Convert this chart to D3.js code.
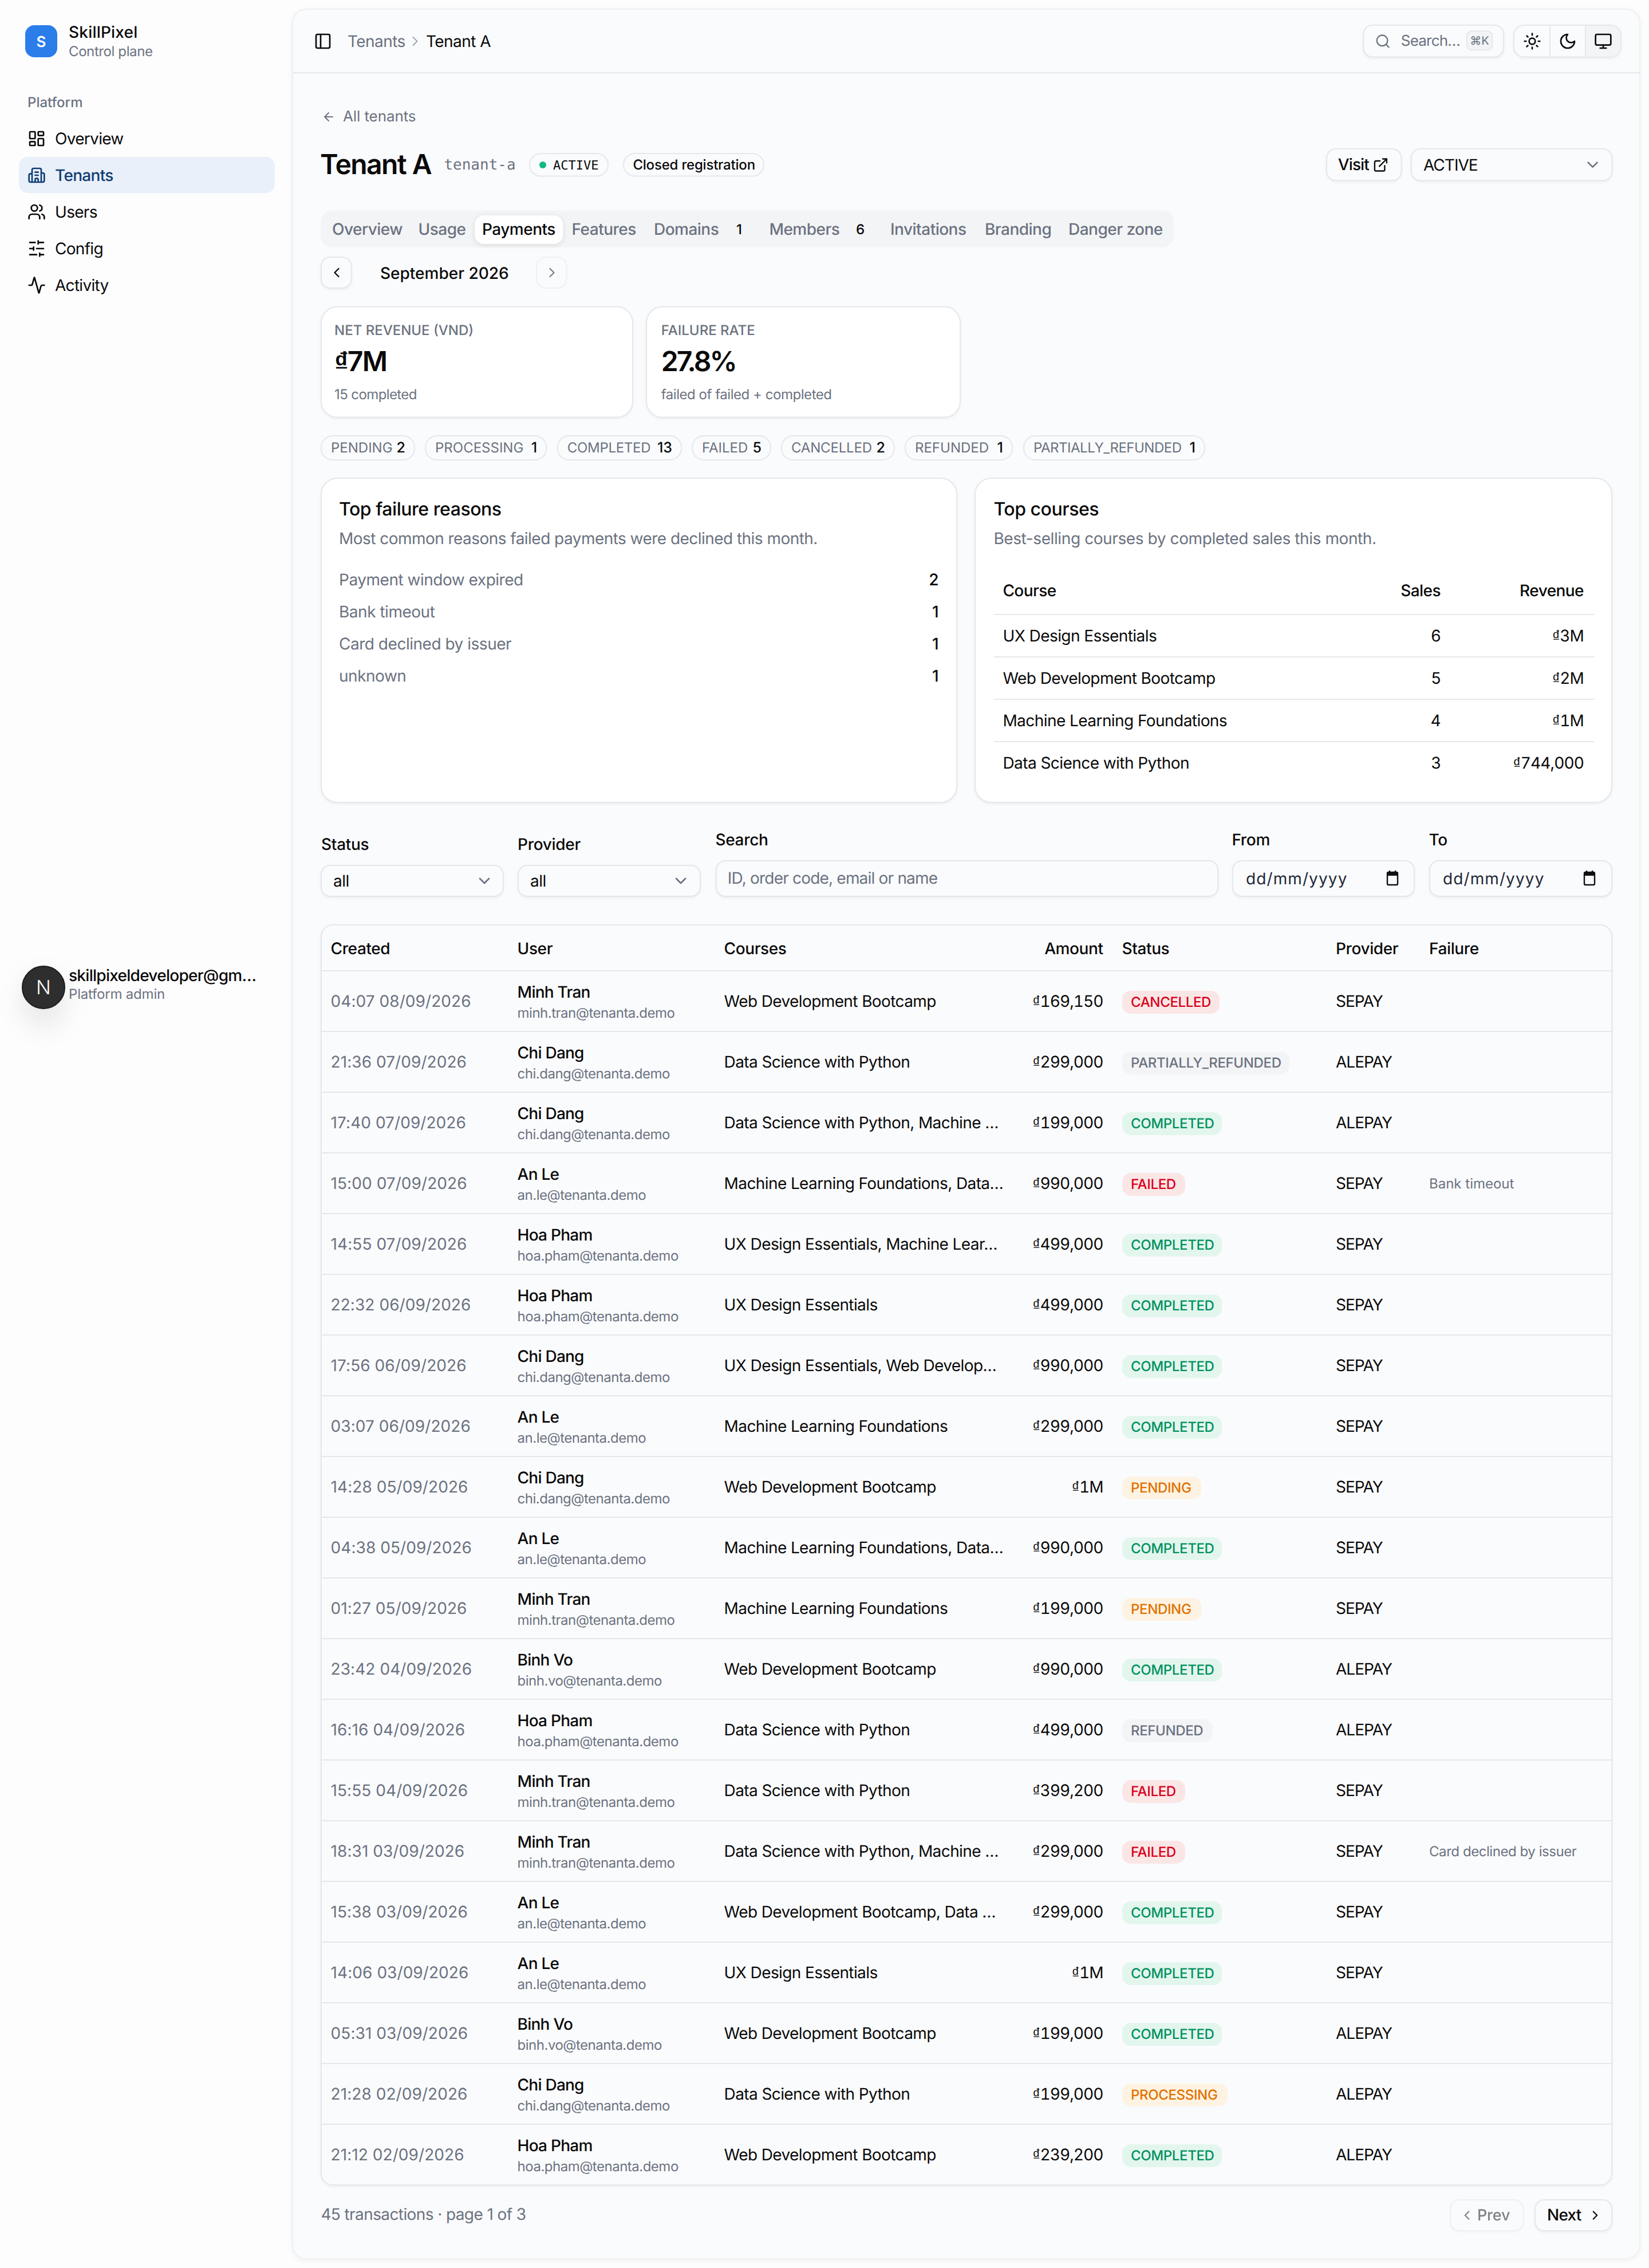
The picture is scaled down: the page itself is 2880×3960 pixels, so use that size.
<!DOCTYPE html>
<html><head><meta charset="utf-8">
<script src="https://cdn.jsdelivr.net/npm/d3@7/dist/d3.min.js"></script>
<style>
html,body{margin:0;padding:0;background:#fdfdfe}
svg{display:block;font-family:Inter,sans-serif;text-rendering:geometricPrecision}
</style></head><body>
<svg id="c" width="2880" height="3960" viewBox="0 0 2880 3960"></svg>
<script>
// ---------- data ----------
const navItems = ["Overview","Tenants","Users","Config","Activity"];
const navIcons = ["dash","building","users","sliders","activity"];
const tabLabels = ["Overview","Usage","Payments","Features","Domains","Members","Invitations","Branding","Danger zone"];
const tabBadges = ["","","","","1","6","","",""];
const statusChipLabels = ["PENDING","PROCESSING","COMPLETED","FAILED","CANCELLED","REFUNDED","PARTIALLY_REFUNDED"];
const statusChipCounts = [2,1,13,5,2,1,1];
const failureReasons = ["Payment window expired","Bank timeout","Card declined by issuer","unknown"];
const failureCounts = [2,1,1,1];
const topCourses = ["UX Design Essentials","Web Development Bootcamp","Machine Learning Foundations","Data Science with Python"];
const topSales = [6,5,4,3];
const topRevenue = [3000000,2000000,1000000,744000];
const columnHeaders = ["Created","User","Courses","Amount","Status","Provider","Failure"];
const created = ["04:07 08/09/2026","21:36 07/09/2026","17:40 07/09/2026","15:00 07/09/2026","14:55 07/09/2026","22:32 06/09/2026","17:56 06/09/2026","03:07 06/09/2026","14:28 05/09/2026","04:38 05/09/2026","01:27 05/09/2026","23:42 04/09/2026","16:16 04/09/2026","15:55 04/09/2026","18:31 03/09/2026","15:38 03/09/2026","14:06 03/09/2026","05:31 03/09/2026","21:28 02/09/2026","21:12 02/09/2026"];
const userNames = ["Minh Tran","Chi Dang","Chi Dang","An Le","Hoa Pham","Hoa Pham","Chi Dang","An Le","Chi Dang","An Le","Minh Tran","Binh Vo","Hoa Pham","Minh Tran","Minh Tran","An Le","An Le","Binh Vo","Chi Dang","Hoa Pham"];
const userEmails = ["minh.tran","chi.dang","chi.dang","an.le","hoa.pham","hoa.pham","chi.dang","an.le","chi.dang","an.le","minh.tran","binh.vo","hoa.pham","minh.tran","minh.tran","an.le","an.le","binh.vo","chi.dang","hoa.pham"];
const courseCells = ["Web Development Bootcamp","Data Science with Python","Data Science with Python, Machine …","Machine Learning Foundations, Data…","UX Design Essentials, Machine Lear…","UX Design Essentials","UX Design Essentials, Web Develop…","Machine Learning Foundations","Web Development Bootcamp","Machine Learning Foundations, Data…","Machine Learning Foundations","Web Development Bootcamp","Data Science with Python","Data Science with Python","Data Science with Python, Machine …","Web Development Bootcamp, Data …","UX Design Essentials","Web Development Bootcamp","Data Science with Python","Web Development Bootcamp"];
const amounts = [169150,299000,199000,990000,499000,499000,990000,299000,1000000,990000,199000,990000,499000,399200,299000,299000,1000000,199000,199000,239200];
const statuses = ["CANCELLED","PARTIALLY_REFUNDED","COMPLETED","FAILED","COMPLETED","COMPLETED","COMPLETED","COMPLETED","PENDING","COMPLETED","PENDING","COMPLETED","REFUNDED","FAILED","FAILED","COMPLETED","COMPLETED","COMPLETED","PROCESSING","COMPLETED"];
const providers = ["SEPAY","ALEPAY","ALEPAY","SEPAY","SEPAY","SEPAY","SEPAY","SEPAY","SEPAY","SEPAY","SEPAY","ALEPAY","ALEPAY","SEPAY","SEPAY","SEPAY","SEPAY","ALEPAY","ALEPAY","ALEPAY"];
const failures = ["","","","Bank timeout","","","","","","","","","","","Card declined by issuer","","","","",""];

// ---------- helpers ----------
const INK="#0a0a0a", MUTED="#6b7280", LINE="#e5e7eb", BG="#fafbfd", SIDE="#fdfdfe", CARD="#ffffff";
const root = d3.select("#c").append("g").attr("transform","scale(2)");
function T(p,x,y,s,o={}){
  const size=o.size||14;
  const ls=o.ls!==undefined?o.ls:(size===14?-0.28:size===12?-0.2:0);
  const t=p.append("text").attr("x",x).attr("y",y)
    .attr("font-size",size).attr("font-weight",o.w||400).attr("fill",o.fill||INK)
    .attr("text-anchor",o.a||"start").attr("letter-spacing",ls);
  if(o.font) t.attr("font-family",o.font);
  if(o.tnum) t.style("font-variant-numeric","tabular-nums");
  const str=String(s);
  if(str[0]==="₫"){
    t.append("tspan").attr("font-family","'Liberation Sans',sans-serif").attr("font-weight",o.cw||400).text("₫");
    t.append("tspan").text(str.slice(1));
  } else t.text(str);
  return t;
}
function R(p,x0,y0,x1,y1,r,fill,stroke,extra){
  const e=p.append("rect").attr("x",x0).attr("y",y0).attr("width",x1-x0).attr("height",y1-y0).attr("rx",r)
    .attr("fill",fill||"none");
  if(stroke) e.attr("stroke",stroke).attr("stroke-width",1);
  if(extra) e.style("filter",extra);
  return e;
}
const SH="drop-shadow(0 1px 1px rgba(0,0,0,.05))";
const ICON={
 dash:'<rect x="3" y="3" width="7" height="9" rx="1"/><rect x="14" y="3" width="7" height="5" rx="1"/><rect x="14" y="12" width="7" height="9" rx="1"/><rect x="3" y="16" width="7" height="5" rx="1"/>',
 building:'<path d="M10 12h4M10 8h4M14 21v-3a2 2 0 0 0-4 0v3M6 10H4a2 2 0 0 0-2 2v7a2 2 0 0 0 2 2h16a2 2 0 0 0 2-2V11a2 2 0 0 0-2-2h-2M6 21V5a2 2 0 0 1 2-2h8a2 2 0 0 1 2 2v16"/>',
 users:'<path d="M16 21v-2a4 4 0 0 0-4-4H6a4 4 0 0 0-4 4v2M22 21v-2a4 4 0 0 0-3-3.87M16 3.13a4 4 0 0 1 0 7.75"/><circle cx="9" cy="7" r="4"/>',
 sliders:'<path d="M21 4h-7M10 4H3M21 12h-9M8 12H3M21 20h-5M12 20H3M14 2v4M8 10v4M16 18v4"/>',
 activity:'<path d="M22 12h-2.48a2 2 0 0 0-1.93 1.46l-2.35 8.36a.25.25 0 0 1-.48 0L9.24 2.18a.25.25 0 0 0-.48 0l-2.35 8.36A2 2 0 0 1 4.49 12H2"/>',
 panel:'<rect x="3" y="3" width="18" height="18" rx="2"/><path d="M9 3v18"/>',
 right:'<path d="m9 18 6-6-6-6"/>', left:'<path d="m15 18-6-6 6-6"/>', down:'<path d="m6 9 6 6 6-6"/>',
 back:'<path d="m12 19-7-7 7-7M19 12H5"/>',
 search:'<path d="m21 21-4.34-4.34"/><circle cx="11" cy="11" r="8"/>',
 sun:'<circle cx="12" cy="12" r="4"/><path d="M12 2v2M12 20v2M4.93 4.93l1.41 1.41M17.66 17.66l1.41 1.41M2 12h2M20 12h2M6.34 17.66l-1.41 1.41M19.07 4.93l-1.41 1.41"/>',
 moon:'<path d="M12 3a6 6 0 0 0 9 9 9 9 0 1 1-9-9Z"/>',
 monitor:'<rect x="2" y="3" width="20" height="14" rx="2"/><path d="M8 21h8M12 17v4"/>',
 ext:'<path d="M15 3h6v6M10 14 21 3M18 13v6a2 2 0 0 1-2 2H5a2 2 0 0 1-2-2V8a2 2 0 0 1 2-2h6"/>'
};
function I(p,name,cx,cy,size,color,sw){
  const k=size/24;
  return p.append("g").attr("transform",`translate(${cx-size/2},${cy-size/2}) scale(${k})`)
    .attr("fill","none").attr("stroke",color||INK).attr("stroke-width",sw||2)
    .attr("stroke-linecap","round").attr("stroke-linejoin","round").html(ICON[name]);
}
const money=v=>v>=1e6?"₫"+Math.round(v/1e6)+"M":"₫"+d3.format(",")(v);

// ---------- page background ----------
root.append("rect").attr("width",1440).attr("height",1980).attr("fill",SIDE);
R(root,255.5,8,1432,1972,12,BG,"#eff0f2","drop-shadow(0 1px 2px rgba(0,0,0,.05))");

// ---------- sidebar ----------
const side=root.append("g");
R(side,22,22,50,50,8,"#2b7de9");
T(side,36,40.8,"S",{size:13,w:600,fill:"#fff",a:"middle",ls:0});
T(side,60,33,"SkillPixel",{w:500,ls:0.1});
T(side,60,49,"Control plane",{size:12,fill:MUTED});
T(side,24,93.5,"Platform",{size:12,w:500,fill:MUTED,ls:0});
const navY=d3.scalePoint().domain(navItems).range([121,249]);
R(side,16.5,137,240,168.6,8,"#e9f0fa");
navItems.forEach((n,i)=>{
  const col=n==="Tenants"?"#0f3d73":INK;
  I(side,navIcons[i],32,navY(n),16,col,2);
  T(side,48,navY(n)+5,n,{fill:col,w:n==="Tenants"?500:400,ls:-0.35});
});
const avatarShadow=side.append("ellipse").attr("cx",38).attr("cy",874).attr("rx",21).attr("ry",24)
  .attr("fill","rgba(0,0,0,.07)").style("filter","blur(10px)");
side.append("circle").attr("cx",38).attr("cy",862).attr("r",18.5).attr("fill","#2e2e2e").attr("stroke","#1c1c1c");
T(side,38,868,"N",{size:17,w:300,fill:"#fff",a:"middle",ls:0});
T(side,60,856.6,"skillpixeldeveloper@gm…",{w:500,ls:-0.36});
T(side,60,871.8,"Platform admin",{size:12,fill:MUTED,ls:-0.1});

// ---------- header ----------
const headG=root.append("g");
headG.append("line").attr("x1",256).attr("x2",1432).attr("y1",63.5).attr("y2",63.5).attr("stroke",LINE);
I(headG,"panel",282,36,16,INK,2);
T(headG,303.5,41,"Tenants",{fill:MUTED});
I(headG,"right",362.5,36,14,"#9ca3af",1.6);
T(headG,372,41,"Tenant A");
R(headG,1190.6,22,1313,49.7,8,BG,LINE,SH);
I(headG,"search",1207.6,36,14,MUTED,2);
T(headG,1223.4,40,"Search…",{size:13,fill:MUTED,ls:-0.4});
R(headG,1281,27.3,1303,43.6,4,"#f3f4f6",LINE);
T(headG,1292,39,"⌘K",{size:10,fill:MUTED,a:"middle"});
R(headG,1322,22,1415.5,49.7,9,BG,LINE,SH);
headG.append("path").attr("d","M1384.5 22.5H1406.5a8.5 8.5 0 0 1 8.5 8.5V40.7a8.5 8.5 0 0 1-8.5 8.5H1384.5Z").attr("fill","#f3f4f6");
[1353.5,1384.5].forEach(x=>headG.append("line").attr("x1",x).attr("x2",x).attr("y1",22).attr("y2",49.7).attr("stroke",LINE));
I(headG,"sun",1338,36,16,INK,2);
I(headG,"moon",1369,36,16,INK,2);
I(headG,"monitor",1400,36,16,INK,2);

// ---------- title area ----------
const titleG=root.append("g");
I(titleG,"back",287,102,12,MUTED,2);
T(titleG,299.5,106,"All tenants",{size:13,fill:MUTED,ls:-0.05});
T(titleG,279.5,152,"Tenant A",{size:24,w:600,ls:-0.78});
T(titleG,387.7,148,"tenant-a",{size:13,fill:MUTED,font:"'DejaVu Sans Mono',monospace"});
R(titleG,462.4,134,531,153.8,10,BG,LINE);
titleG.append("circle").attr("cx",474).attr("cy",144).attr("r",3).attr("fill","#10b981");
T(titleG,483,148,"ACTIVE",{size:11,font:"'DejaVu Sans Mono',monospace"});
R(titleG,544.5,134,667,153.8,10,BG,LINE);
T(titleG,552.7,148,"Closed registration",{size:12,w:500,ls:-0.1});
R(titleG,1158.5,130,1223.7,157.6,8,BG,LINE,SH);
T(titleG,1168.4,148.6,"Visit",{size:14,w:500,ls:-0.45});
I(titleG,"ext",1205.7,144,14,INK,2);
R(titleG,1232.4,130,1407.7,157.6,8,BG,LINE,SH);
T(titleG,1243,149,"ACTIVE",{size:14,ls:-0.5});
I(titleG,"down",1390.8,143.8,16,MUTED,2);

// ---------- tabs ----------
const tabsG=root.append("g");
R(tabsG,280,183.7,1025,216,10,"#f3f4f6");
R(tabsG,414.6,188,491.7,213,8,"#fff",null,"drop-shadow(0 1px 2px rgba(0,0,0,.1))");
const tabX=d3.scaleOrdinal().domain(tabLabels).range([290,365.3,421,499.3,571,671.7,777.5,860,933]);
const tabBadgeX=d3.scaleOrdinal().domain(tabLabels).range([0,0,0,0,643,747.5,0,0,0]);
tabLabels.forEach((t,i)=>{
  T(tabsG,tabX(t),205,t,{w:500,fill:t==="Payments"?INK:MUTED,ls:-0.26});
  if(tabBadges[i]) T(tabsG,tabBadgeX(t),204.5,tabBadges[i],{size:12,w:500});
});

// ---------- month nav ----------
const navG=root.append("g");
R(navG,280.5,224.5,306.8,251.5,8,BG,LINE,SH);
I(navG,"left",294,238,14,INK,2);
T(navG,332,243.5,"September 2026",{w:500,ls:0});
const nx=navG.append("g").attr("opacity",.5);
R(nx,468.5,224.5,494.8,251.5,8,BG,LINE);
I(nx,"right",482,238,14,INK,2);

// ---------- stat cards ----------
const statsG=root.append("g");
R(statsG,280.5,267.8,552.5,364.3,14,CARD,LINE,SH);
T(statsG,292,292.6,"NET REVENUE (VND)",{size:12,w:500,fill:MUTED,ls:0});
T(statsG,292,324,"₫7M",{size:24,w:600,ls:-0.9,cw:700});
T(statsG,292,348.5,"15 completed",{size:12,fill:MUTED,ls:-0.3});
R(statsG,564.5,267.8,838.5,364.3,14,CARD,LINE,SH);
T(statsG,577.4,292.6,"FAILURE RATE",{size:12,w:500,fill:MUTED,ls:0});
T(statsG,577.4,324,"27.8%",{size:24,w:600,ls:-1.45});
T(statsG,577.4,348.5,"failed of failed + completed",{size:12,fill:MUTED,ls:-0.23});

// ---------- status chips ----------
const chipL=[280,371,486.4,604,682,790,893.5], chipR=[362.5,477.6,595.5,673.5,781.4,884.5,1052.5];
const chipLs=[0,0,-0.15,0,-0.1,0,-0.25];
const chips=root.append("g").selectAll("g").data(statusChipLabels).join("g");
chips.each(function(d,i){
  const g=d3.select(this);
  R(g,chipL[i]+.5,380.5,chipR[i]-.5,401.5,10,BG,LINE);
  T(g,chipL[i]+9,395,d,{size:12,fill:MUTED,ls:chipLs[i]});
  T(g,chipR[i]-8.5,395,statusChipCounts[i],{size:12.5,w:500,a:"end"});
});

// ---------- failure reasons ----------
const fc=root.append("g");
R(fc,280.5,417.5,835.5,700.5,14,CARD,LINE,SH);
T(fc,296,450,"Top failure reasons",{size:16,w:500,ls:-0.23});
T(fc,296,475,"Most common reasons failed payments were declined this month.",{fill:MUTED,ls:-0.27});
const fy=d3.scalePoint().domain(failureReasons).range([511,595]);
failureReasons.forEach((r,i)=>{
  T(fc,296,fy(r),r,{fill:MUTED,ls:-0.24});
  T(fc,819.5,fy(r),failureCounts[i],{w:500,a:"end"});
});

// ---------- top courses ----------
const tc=root.append("g");
R(tc,851.5,417.5,1407.5,700.5,14,CARD,LINE,SH);
T(tc,867.7,450,"Top courses",{size:16,w:500,ls:-0.23});
T(tc,867.7,475,"Best-selling courses by completed sales this month.",{fill:MUTED,ls:-0.2});
T(tc,875.7,520.6,"Course",{w:500}); T(tc,1258,520.6,"Sales",{w:500,a:"end"}); T(tc,1383,520.6,"Revenue",{w:500,a:"end"});
const ty=d3.scaleBand().domain(topCourses).range([536.5,684.5]);
tc.append("line").attr("x1",868).attr("x2",1392).attr("y1",536.5).attr("y2",536.5).attr("stroke",LINE);
topCourses.forEach((c,i)=>{
  const y=ty(c);
  if(i<3) tc.append("line").attr("x1",868).attr("x2",1392).attr("y1",y+37).attr("y2",y+37).attr("stroke",LINE);
  T(tc,875.7,y+23.5,c); T(tc,1258,y+23.5,topSales[i],{a:"end"}); T(tc,1383,y+23.5,money(topRevenue[i]),{a:"end",ls:-0.45,tnum:true});
});

// ---------- filters ----------
const fl=root.append("g");
T(fl,280.5,742,"Status",{w:500,ls:-0.15}); T(fl,452,742,"Provider",{w:500,ls:-0.15});
T(fl,624.7,738,"Search",{w:500,ls:-0.15}); T(fl,1075.7,738,"From",{w:500,ls:-0.15}); T(fl,1247.7,738,"To",{w:500,ls:-0.15});
R(fl,280.5,755.5,439.5,782.5,8,BG,LINE,SH); T(fl,291,774,"all");
I(fl,"down",423,769,16,MUTED,2);
R(fl,452.5,755.5,611.5,782.5,8,BG,LINE,SH); T(fl,463,774,"all");
I(fl,"down",594.5,769,16,MUTED,2);
R(fl,625.5,751.5,1063.5,782.5,8,BG,LINE,SH);
T(fl,635.4,771.5,"ID, order code, email or name",{fill:MUTED,ls:-0.4});
[[1076,1235,1088,1216],[1248,1407.5,1260,1388]].forEach(a=>{
  R(fl,a[0]+.5,751.5,a[1],782.5,8,BG,LINE,SH);
  T(fl,a[2],772,"dd/mm/yyyy",{fill:"#1f2937",ls:0.55});
  const ig=fl.append("g");
  R(ig,a[3]-4.5,761.5,a[3]+4.5,772.5,1,"none","#111").attr("stroke-width",1.2);
  R(ig,a[3]-4.5,761.5,a[3]+4.5,764.5,0,"#111");
  ig.append("path").attr("d",`M${a[3]-2.5} 760V762M${a[3]+2.5} 760V762`).attr("stroke","#111").attr("stroke-width",1.2);
});

// ---------- payments table ----------
const tb=root.append("g");
R(tb,280.5,807.5,1407.5,1907.5,10,BG,LINE,SH);
const colX=d3.scaleOrdinal().domain(columnHeaders).range([288.8,451.8,632.3,963.3,979.8,1166.5,1248]);
columnHeaders.forEach(h=>T(tb,colX(h),832.8,h,{w:500,ls:-0.2,a:h==="Amount"?"end":"start"}));
const rowIdx=d3.range(created.length);
const rowY=d3.scaleBand().domain(rowIdx).range([847.5,1907.5]);
const STYLE={
  COMPLETED:["#e3f6ee","#00915f",87],
  CANCELLED:["#fbe6e6","#d9001b",85],
  FAILED:["#fbe6e6","#d9001b",55],
  PENDING:["#fef3e2","#e17100",69],
  PROCESSING:["#fef3e2","#e17100",92],
  REFUNDED:["#f3f4f6","#6b7280",79],
  PARTIALLY_REFUNDED:["#f3f4f6","#6b7280",146]
};
const rows=tb.selectAll("g.row").data(rowIdx).join("g").attr("class","row")
  .attr("transform",i=>`translate(0,${rowY(i)})`);
rows.each(function(i){
  const g=d3.select(this);
  g.append("line").attr("x1",281).attr("x2",1407).attr("y1",0).attr("y2",0).attr("stroke",LINE);
  T(g,colX("Created"),31.4,created[i],{fill:MUTED,ls:0.03});
  T(g,colX("User"),23.5,userNames[i],{w:500,ls:-0.38});
  T(g,colX("User"),40.8,userEmails[i]+"@tenanta.demo",{size:12,fill:MUTED,ls:-0.25});
  T(g,colX("Courses"),31.4,courseCells[i],{ls:-0.3});
  T(g,colX("Amount"),31.5,money(amounts[i]),{a:"end",ls:-0.45,tnum:true});
  const st=STYLE[statuses[i]];
  R(g,980,17.5,980+st[2],37.5,7.5,st[0]);
  T(g,987.5,31.4,statuses[i],{size:12,w:500,fill:st[1],ls:-0.18});
  T(g,colX("Provider"),31.4,providers[i],{ls:-0.5});
  if(failures[i]) T(g,colX("Failure"),31,failures[i],{size:12,fill:MUTED,ls:failures[i].length>12?-0.22:0});
});

// ---------- pagination ----------
const pg=root.append("g");
T(pg,280.2,1938,"45 transactions · page 1 of 3",{fill:MUTED,ls:-0.3});
const pv=pg.append("g").attr("opacity",.5);
R(pv,1266.5,1920.5,1330.3,1947.5,8,BG,LINE,SH);
I(pv,"left",1281,1934,13,INK,2);
T(pv,1290,1938.5,"Prev",{size:13.5,w:500,ls:-0.1});
R(pg,1340.5,1920.5,1407.5,1947.5,8,BG,LINE,SH);
T(pg,1351,1938.5,"Next",{size:14,w:500,ls:-0.4});
I(pg,"right",1393,1934,13,INK,2);
</script>
</body></html>
